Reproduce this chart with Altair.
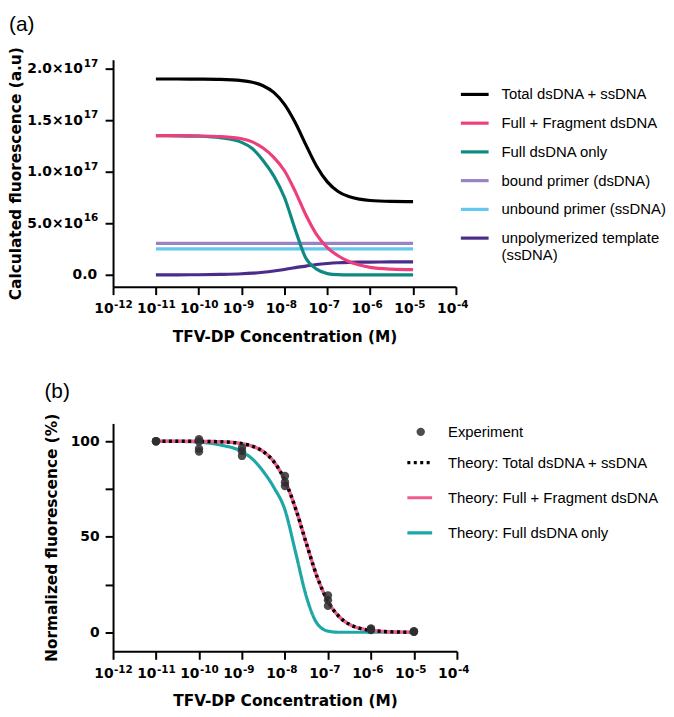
import altair as alt
import pandas as pd

FONT = "Liberation Sans"
AXIS_FONT = "DejaVu Sans"

# ---------------- data ----------------
LOG_CONC = [-11, -10.5, -10, -9.5, -9, -8.75, -8.5, -8.25, -8, -7.75, -7.5,
            -7.25, -7, -6.75, -6.5, -6.25, -6, -5.5, -5]

# panel (a): calculated fluorescence, in units of 1e16
A_TOTAL = [19.00, 19.00, 18.99, 18.97, 18.85, 18.68, 18.35, 17.70, 16.54, 14.78,
           12.61, 10.54, 9.02, 8.09, 7.59, 7.34, 7.21, 7.13, 7.11]
A_FULL_FRAG = [13.50, 13.50, 13.48, 13.42, 13.20, 12.90, 12.30, 11.40, 10.10, 8.10,
               5.80, 3.90, 2.65, 1.85, 1.30, 0.95, 0.72, 0.55, 0.50]
A_FULL_ONLY = [13.50, 13.49, 13.45, 13.30, 12.85, 12.25, 11.10, 9.60, 7.50, 4.40,
               1.60, 0.55, 0.12, 0.02, 0.00, 0.00, 0.00, 0.00, 0.00]
A_BOUND = [3.05, 3.05, 3.05, 3.05, 3.05, 3.05, 3.05, 3.05, 3.05, 3.05,
           3.05, 3.05, 3.05, 3.05, 3.05, 3.05, 3.05, 3.05, 3.05]
A_UNBOUND = [2.52, 2.52, 2.52, 2.52, 2.52, 2.52, 2.52, 2.52, 2.52, 2.52,
             2.52, 2.52, 2.52, 2.52, 2.52, 2.52, 2.52, 2.52, 2.52]
A_TEMPLATE = [0.00, 0.00, 0.01, 0.04, 0.10, 0.16, 0.25, 0.37, 0.52, 0.70,
              0.85, 1.00, 1.10, 1.17, 1.21, 1.23, 1.24, 1.25, 1.25]

A_NAMES = ["Total dsDNA + ssDNA", "Full + Fragment dsDNA", "Full dsDNA only",
           "bound primer (dsDNA)", "unbound primer (ssDNA)",
           "unpolymerized template|(ssDNA)"]
A_COLORS = ["#000000", "#EC3F7B", "#0F8A82", "#9A82C3", "#63C7EF", "#4A2C8A"]
A_VALUES = [A_TOTAL, A_FULL_FRAG, A_FULL_ONLY, A_BOUND, A_UNBOUND, A_TEMPLATE]
A_DRAW_ORDER = [3, 4, 5, 2, 1, 0]

# y tick labels of panel (a): mantissa part and exponent part
A_Y_TICKS = [0, 5, 10, 15, 20]
A_Y_BASES = ["", "5.0×10", "1.0×10", "1.5×10", "2.0×10"]
A_Y_EXPONENTS = ["", "16", "17", "17", "17"]
A_Y_ZERO_TICK = [0]
A_Y_ZERO_LABEL = ["0.0"]

# panel (b): normalized fluorescence (%)
B_TOTAL = [100.0, 100.0, 99.9, 99.7, 98.7, 97.3, 94.5, 89.0, 79.4, 64.5, 46.3,
           28.9, 16.2, 8.4, 4.1, 2.0, 1.0, 0.2, 0.0]
B_FULL_FRAG = [100.0, 100.0, 99.9, 99.7, 98.7, 97.3, 94.5, 89.0, 79.4, 64.5, 46.3,
               28.9, 16.2, 8.4, 4.1, 2.0, 1.0, 0.2, 0.0]
B_FULL_ONLY = [100.0, 99.9, 99.5, 98.0, 94.5, 90.5, 84.0, 75.5, 64.0, 41.5, 18.5,
               4.5, 0.6, 0.0, 0.0, 0.0, 0.0, 0.0, 0.0]
B_NAMES = ["Theory: Total dsDNA + ssDNA", "Theory: Full + Fragment dsDNA",
           "Theory: Full dsDNA only"]
B_COLORS = ["#000000", "#EF5D8C", "#1DA7A6"]
B_DASH = [[3, 3.5], [1, 0], [1, 0]]
B_WIDTH = [3.5, 3.5, 3.2]
B_VALUES = [B_TOTAL, B_FULL_FRAG, B_FULL_ONLY]
B_DRAW_ORDER = [2, 1, 0]

EXP_LOG_CONC = [-11, -11, -11, -10, -10, -10, -10, -9, -9, -9, -8, -8, -8,
                -7, -7, -7, -6, -6, -6, -5, -5, -5]
EXP_VALUES = [100.0, 100.0, 100.0, 101.0, 99.8, 96.0, 94.6, 96.6, 94.8, 92.3,
              81.8, 78.5, 76.5, 19.3, 16.8, 13.8, 2.0, 1.6, 1.2, 0.5, 0.3, 0.2]

B_Y_TICKS = [0, 25, 50, 75, 100]
B_Y_LABELS = ["0", "", "50", "", "100"]

# x tick labels: base "10" and exponent
X_TICK_EXP = [-12, -11, -10, -9, -8, -7, -6, -5, -4]
X_TICK_BASE = "10"
X_TICK_EXPONENTS = ["-12", "-11", "-10", "-9", "-8", "-7", "-6", "-5", "-4"]
X_TICKS = [10.0 ** e for e in X_TICK_EXP]


def label_expr(ticks, labels, log=False):
    parts = []
    for i in range(len(ticks) - 1):
        mid = (ticks[i] * ticks[i + 1]) ** 0.5 if log else (ticks[i] + ticks[i + 1]) / 2
        parts.append(f"datum.value < {mid!r} ? '{labels[i]}'")
    return " : ".join(parts) + f" : '{labels[-1]}'"


X_TITLE = "TFV-DP Concentration (M)"
SUP_SIZE = 10.5

x_enc = alt.X(
    "conc:Q",
    scale=alt.Scale(type="log", domain=[1e-12, 1e-4], nice=False),
    axis=alt.Axis(values=X_TICKS, labelExpr=f"'{X_TICK_BASE}'", labelAlign="right",
                  title=X_TITLE, labelPadding=7, titlePadding=14,
                  labelOverlap=False, labelFlush=False),
)


def x_exponents(height):
    df = pd.DataFrame({"conc": X_TICKS, "exp": X_TICK_EXPONENTS})
    return alt.Chart(df).mark_text(
        align="left", baseline="alphabetic", dx=1, font=AXIS_FONT,
        fontWeight="bold", fontSize=SUP_SIZE, color="black",
    ).encode(x=x_enc, y=alt.value(height + 22), text="exp:N")


# ---------------- panel (a) ----------------
A_H = 229
legend_a = alt.Legend(
    title=None, orient="none", legendX=349, legendY=19,
    symbolType="stroke", symbolSize=784, symbolStrokeWidth=3.2,
    labelFont=FONT, labelFontSize=15, labelColor="black", labelOffset=11,
    labelLimit=300, rowPadding=5, labelExpr="split(datum.label, '|')",
)

y_a = alt.Y("value:Q",
            scale=alt.Scale(domain=[-1.15, 20.87], nice=False, zero=False),
            axis=alt.Axis(values=A_Y_TICKS,
                          labelExpr=label_expr(A_Y_TICKS, A_Y_BASES),
                          title="Calculated fluorescence (a.u)",
                          labelPadding=23, titlePadding=3))

layers_a = []
for i in A_DRAW_ORDER:
    df = pd.DataFrame({
        "conc": [10.0 ** e for e in LOG_CONC],
        "value": A_VALUES[i],
        "curve_a": A_NAMES[i],
    })
    layers_a.append(
        alt.Chart(df).mark_line(strokeWidth=3.2, interpolate="monotone").encode(
            x=x_enc, y=y_a,
            color=alt.Color("curve_a:N",
                            scale=alt.Scale(domain=A_NAMES, range=A_COLORS),
                            legend=legend_a),
        )
    )

df_aexp = pd.DataFrame({"value": A_Y_TICKS, "exp": A_Y_EXPONENTS})
layers_a.append(
    alt.Chart(df_aexp).mark_text(
        align="right", baseline="middle", dy=-5, font=AXIS_FONT, fontWeight="bold",
        fontSize=SUP_SIZE, color="black",
    ).encode(x=alt.value(-15), y=y_a, text="exp:N")
)
df_azero = pd.DataFrame({"value": A_Y_ZERO_TICK, "lab": A_Y_ZERO_LABEL})
layers_a.append(
    alt.Chart(df_azero).mark_text(
        align="right", baseline="middle", font=AXIS_FONT, fontWeight="bold",
        fontSize=14, color="black",
    ).encode(x=alt.value(-16), y=y_a, text="lab:N")
)
layers_a.append(x_exponents(A_H))

chart_a = alt.layer(*layers_a).properties(
    width=346, height=A_H,
    title=alt.TitleParams("(a)", anchor="start", frame="bounds", fontSize=21,
                          fontWeight="normal", font=FONT, color="black", offset=12),
)

# ---------------- panel (b) ----------------
B_H = 230
legend_b = alt.Legend(
    title=None, orient="none", legendX=295, legendY=25,
    symbolType="stroke", symbolSize=625, symbolStrokeWidth=3.2,
    labelFont=FONT, labelFontSize=15, labelColor="black", labelOffset=14,
    labelLimit=300, rowPadding=12.5,
)

y_b = alt.Y("value:Q",
            scale=alt.Scale(domain=[-10, 109.3], nice=False, zero=False),
            axis=alt.Axis(values=B_Y_TICKS,
                          labelExpr=label_expr(B_Y_TICKS, B_Y_LABELS),
                          title="Normalized fluorescence (%)",
                          labelPadding=6, titlePadding=11))

layers_b = []
for i in B_DRAW_ORDER:
    df = pd.DataFrame({
        "conc": [10.0 ** e for e in LOG_CONC],
        "value": B_VALUES[i],
        "curve_b": B_NAMES[i],
    })
    layers_b.append(
        alt.Chart(df).mark_line(strokeWidth=B_WIDTH[i], interpolate="monotone").encode(
            x=x_enc, y=y_b,
            color=alt.Color("curve_b:N", scale=alt.Scale(domain=B_NAMES, range=B_COLORS),
                            legend=legend_b),
            strokeDash=alt.StrokeDash("curve_b:N",
                                      scale=alt.Scale(domain=B_NAMES, range=B_DASH),
                                      legend=legend_b),
        )
    )

df_exp = pd.DataFrame({
    "conc": [10.0 ** e for e in EXP_LOG_CONC],
    "value": EXP_VALUES,
    "measure": "Experiment",
})
points = alt.Chart(df_exp).mark_point(filled=True, size=72, color="#2E2F30",
                                      opacity=0.85).encode(
    x=x_enc, y=y_b,
    shape=alt.Shape("measure:N", scale=alt.Scale(domain=["Experiment"], range=["circle"]),
                    legend=alt.Legend(title=None, orient="none", legendX=303, legendY=1,
                                      labelFont=FONT, labelFontSize=15, labelColor="black",
                                      labelOffset=20, symbolSize=72)),
)
layers_b.append(points)
layers_b.append(x_exponents(B_H))

chart_b = alt.layer(*layers_b).properties(
    width=347, height=B_H,
    title=alt.TitleParams("(b)", anchor="start", frame="bounds", fontSize=21,
                          fontWeight="normal", font=FONT, color="black", offset=11),
)

chart = alt.vconcat(chart_a, chart_b, spacing=36).resolve_scale(
    color="independent", strokeDash="independent", shape="independent"
).resolve_legend(
    color="independent", strokeDash="independent", shape="independent"
).properties(
    padding={"left": 0, "top": 2, "right": 0, "bottom": 0}
).configure_view(stroke=None).configure_axis(
    grid=False, domainColor="black", domainWidth=2, tickColor="black", tickWidth=2,
    tickSize=8, labelFont=AXIS_FONT, labelFontSize=14, labelFontWeight="bold",
    labelColor="black", titleFont=AXIS_FONT, titleFontSize=15.5, titleFontWeight="bold",
    titleColor="black",
)

chart.save("out.html", embed_options={"renderer": "svg", "actions": False})
